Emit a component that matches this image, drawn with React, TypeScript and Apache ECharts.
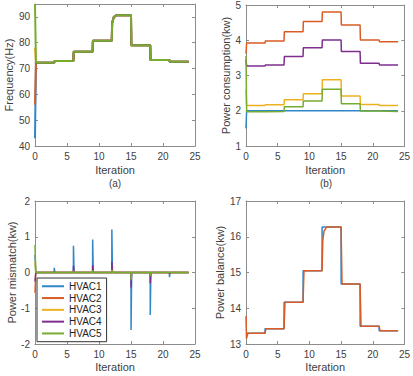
import React, { useEffect, useRef } from "react";
import * as echarts from "echarts";

// ---------- data ----------
const names = ["HVAC1", "HVAC2", "HVAC3", "HVAC4", "HVAC5"];
const colors = ["#2f86c8", "#d95c24", "#EDB120", "#7E2F8E", "#77AC30"];
const boundaries = [3, 6, 9, 12, 15, 18, 21];
const X_END = 24;

// (a) Frequency (Hz)
const freqStart = [43, 56, 78, 72, 95];
const freqLevels = [72.2, 72.9, 76.5, 80.8, 90.6, 79.0, 73.3, 72.6];
const freqRise12: number[][] = [[12.05, 87.5], [12.3, 89.9], [12.7, 90.6]];

// (b) Power consumption (kw)
const consStart = [1.5, 3.62, 2.6, 3.45, 3.55];
const consHVAC1 = [2.0, 2.0, 2.0, 2.0, 2.0, 2.0, 2.0, 2.0];
const consHVAC2 = [3.92, 3.98, 4.24, 4.53, 4.8, 4.43, 4.01, 3.96];
const consHVAC3 = [2.15, 2.17, 2.31, 2.48, 2.88, 2.42, 2.18, 2.15];
const consHVAC4 = [3.27, 3.3, 3.54, 3.79, 4.01, 3.68, 3.35, 3.3];
const consHVAC5 = [1.97, 1.98, 2.11, 2.28, 2.61, 2.2, 1.99, 1.98];

// (c) Power mismatch (kw): spike heights at iterations 0,3,6,...,21
const spikeAt = [0, 3, 6, 9, 12, 15, 18, 21];
const misHVAC1 = [0.5, 0.13, 0.75, 0.92, 1.2, -1.61, -1.19, -0.13];
const misHVAC2 = [-0.57, 0.02, 0.05, 0.05, 0.05, -0.05, -0.05, -0.02];
const misHVAC3 = [0.3, 0.01, 0.05, 0.06, 0.1, -0.1, -0.08, -0.01];
const misHVAC4 = [-0.25, 0.03, 0.19, 0.2, 0.3, -0.42, -0.3, -0.04];
const misHVAC5 = [0.77, 0.02, 0.05, 0.06, 0.08, -0.22, -0.1, -0.02];

// (d) Power balance (kw)
const demandLevels = [13.3, 13.43, 14.17, 15.05, 16.27, 14.68, 13.5, 13.37];
const supplyLevels = [13.3, 13.43, 14.17, 15.05, 16.27, 14.68, 13.5, 13.37];
const supplyStart: number[][] = [[0, 13.78], [0.08, 13.15], [0.3, 13.3]];
const supplyRise12: number[][] = [[12.12, 15.9], [12.3, 16.15], [12.7, 16.27]];

// ---------- builders ----------
function steps(
  start: number[][],
  levels: number[],
  dx: number,
  overrides: Record<number, number[][]> = {}
) {
  const pts: number[][] = [...start];
  boundaries.forEach((b, i) => {
    pts.push([b, levels[i]]);
    if (overrides[b]) pts.push(...overrides[b]);
    else pts.push([b + dx, levels[i + 1]]);
  });
  pts.push([X_END, levels[levels.length - 1]]);
  return pts;
}

function spikes(vals: number[]) {
  const pts: number[][] = [[0, vals[0]], [0.12, 0]];
  for (let i = 1; i < spikeAt.length; i++) {
    const b = spikeAt[i];
    pts.push([b, 0], [b + 0.01, vals[i]], [b + 0.1, 0]);
  }
  pts.push([X_END, 0]);
  return pts;
}

const FONT = '"Liberation Sans", Arial, Helvetica, sans-serif';
const AXIS_COLOR = "#8c8c8c";
const LABEL_COLOR = "#404040";

function axisPair(
  gi: number,
  dir: "x" | "y",
  min: number,
  max: number,
  interval: number,
  name: string,
  nameGap: number,
  hideMax = false
) {
  const common = {
    type: "value",
    gridIndex: gi,
    min,
    max,
    interval,
    splitLine: { show: false },
    axisLine: { show: true, onZero: false, lineStyle: { color: AXIS_COLOR, width: 1 } },
    axisTick: { show: true, inside: true, length: 3, lineStyle: { color: AXIS_COLOR } },
  };
  const main = {
    ...common,
    position: dir === "x" ? "bottom" : "left",
    name,
    nameLocation: "middle",
    nameGap,
    nameRotate: dir === "y" ? 90 : 0,
    nameTextStyle: { fontSize: 11, color: LABEL_COLOR, fontFamily: FONT },
    axisLabel: {
      show: true,
      fontSize: 10,
      color: LABEL_COLOR,
      margin: 5,
      fontFamily: FONT,
      showMaxLabel: hideMax ? false : undefined,
    },
  };
  const mirror = {
    ...common,
    position: dir === "x" ? "top" : "right",
    axisLabel: { show: false },
  };
  return [main, mirror];
}

function line(name: string, idx: number, g: number, data: number[][], width: number, color?: string) {
  return {
    type: "line",
    name,
    xAxisIndex: 2 * g,
    yAxisIndex: 2 * g,
    data,
    symbol: "none",
    showSymbol: false,
    clip: false,
    lineStyle: { width, color: color || colors[idx] },
    itemStyle: { color: color || colors[idx] },
    emphasis: { disabled: true },
  };
}

export default function App() {
  const ref = useRef<HTMLDivElement>(null);
  useEffect(() => {
    if (!ref.current) return;
    const chart = echarts.init(ref.current, undefined, { renderer: "svg" });

    const consAll = [consHVAC1, consHVAC2, consHVAC3, consHVAC4, consHVAC5];
    const misAll = [misHVAC1, misHVAC2, misHVAC3, misHVAC4, misHVAC5];

    const series: any[] = [];
    names.forEach((n, i) => {
      series.push(
        line(n, i, 0, steps([[0, freqStart[i]], [0.15, freqLevels[0]]], freqLevels, 0.05, { 12: freqRise12 }), 2)
      );
    });
    names.forEach((n, i) => {
      series.push(line(n, i, 1, steps([[0, consStart[i]], [0.1, consAll[i][0]]], consAll[i], 0.05), 1.5));
    });
    names.forEach((n, i) => {
      series.push(line(n, i, 2, spikes(misAll[i]), 1.5));
    });
    series.push(line("Demand", 0, 3, steps([[0, demandLevels[0]]], demandLevels, 0.01), 1.5));
    series.push(
      line("Supply", 1, 3, steps(supplyStart, supplyLevels, 0.15, { 12: supplyRise12 }), 1.5)
    );

    const xA = [
      ...axisPair(0, "x", 0, 25, 5, "Iteration", 18),
      ...axisPair(1, "x", 0, 25, 5, "Iteration", 18),
      ...axisPair(2, "x", 0, 25, 5, "Iteration", 17),
      ...axisPair(3, "x", 0, 25, 5, "Iteration", 17),
    ];
    const yA = [
      ...axisPair(0, "y", 40, 95, 10, "Frequency(Hz)", 17, true),
      ...axisPair(1, "y", 1, 5, 1, "Power consumption(kw)", 13),
      ...axisPair(2, "y", -2, 2, 1, "Power mismatch(kw)", 16),
      ...axisPair(3, "y", 13, 17, 1, "Power balance(kw)", 16),
    ];

    chart.setOption({
      animation: false,
      backgroundColor: "#ffffff",
      textStyle: { fontFamily: FONT },
      grid: [
        { left: 35, top: 4, width: 160, height: 142 },
        { left: 246, top: 4, width: 159, height: 142 },
        { left: 35, top: 201, width: 160, height: 143 },
        { left: 246, top: 201, width: 159, height: 143 },
      ],
      xAxis: xA,
      yAxis: yA,
      legend: {
        data: names,
        icon: "rect",
        orient: "vertical",
        left: 37,
        top: 278,
        itemWidth: 22,
        itemHeight: 2,
        itemGap: 1.3,
        padding: [3, 5, 3, 5],
        borderColor: "#333333",
        borderWidth: 1,
        backgroundColor: "#ffffff",
        selectedMode: false,
        textStyle: { fontSize: 10, lineHeight: 10.5, color: "#222222", fontFamily: FONT },
      },
      graphic: [
        { type: "text", x: 115, y: 183, style: { text: "(a)", fontSize: 10, fill: LABEL_COLOR, font: `10px ${FONT}`, textAlign: "center", textVerticalAlign: "middle" } },
        { type: "text", x: 326, y: 183, style: { text: "(b)", fontSize: 10, fill: LABEL_COLOR, font: `10px ${FONT}`, textAlign: "center", textVerticalAlign: "middle" } },
      ],
      series,
    });
    return () => chart.dispose();
  }, []);
  return (
    <div
      ref={ref}
      style={{ position: "fixed", left: 0, top: 0, width: 413, height: 376, background: "#fff" }}
    />
  );
}
